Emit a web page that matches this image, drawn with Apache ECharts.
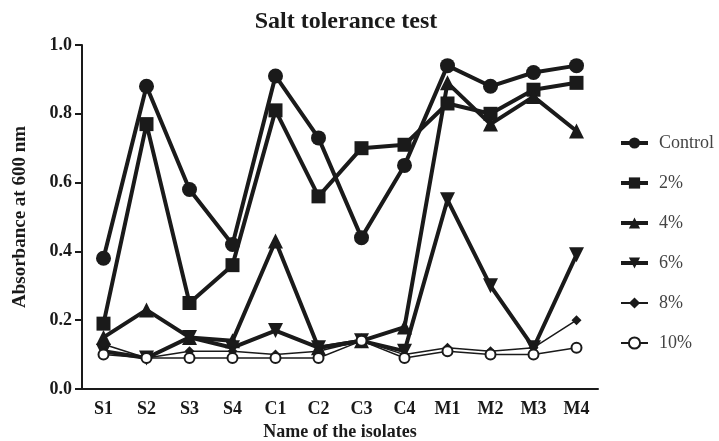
<!DOCTYPE html>
<html>
<head>
<meta charset="utf-8">
<script src="https://cdn.jsdelivr.net/npm/echarts@6/dist/echarts.min.js"></script>
<style>
  html, body { margin: 0; padding: 0; background: #fff; }
  #chart { width: 719px; height: 441px; }
</style>
</head>
<body>
<div id="chart"></div>
<script>
// categories and readings (absorbance at 600 nm)
var isolates = ['S1', 'S2', 'S3', 'S4', 'C1', 'C2', 'C3', 'C4', 'M1', 'M2', 'M3', 'M4'];
var yTicks = [0.0, 0.2, 0.4, 0.6, 0.8, 1.0];

var control = [0.38, 0.88, 0.58, 0.42, 0.91, 0.73, 0.44, 0.65, 0.94, 0.88, 0.92, 0.94];
var salt2   = [0.19, 0.77, 0.25, 0.36, 0.81, 0.56, 0.70, 0.71, 0.83, 0.80, 0.87, 0.89];
var salt4   = [0.15, 0.23, 0.15, 0.14, 0.43, 0.12, 0.14, 0.18, 0.89, 0.77, 0.85, 0.75];
var salt6   = [0.11, 0.09, 0.15, 0.12, 0.17, 0.12, 0.14, 0.11, 0.55, 0.30, 0.12, 0.39];
var salt8   = [0.13, 0.09, 0.11, 0.11, 0.10, 0.11, 0.14, 0.10, 0.12, 0.11, 0.12, 0.20];
var salt10  = [0.10, 0.09, 0.09, 0.09, 0.09, 0.09, 0.14, 0.09, 0.11, 0.10, 0.10, 0.12];

var font = '"Liberation Serif", "Times New Roman", serif';
var ink = '#1a1a1a';

function makeSeries(name, data, symbol, size, width, rotate) {
    return {
        name: name,
        type: 'line',
        data: data,
        symbol: symbol,
        symbolSize: size,
        symbolRotate: rotate || 0,
        showAllSymbol: true,
        lineStyle: { color: ink, width: width },
        itemStyle: { color: ink, borderColor: ink, borderWidth: symbol == 'emptyCircle' ? 2 : 0 },
        emphasis: { disabled: true }
    };
}

var chart = echarts.init(document.getElementById('chart'));
var option = {
    animation: false,
    backgroundColor: '#fff',
    textStyle: { fontFamily: font },
    title: {
        text: 'Salt tolerance test',
        left: 341,
        top: 5,
        textAlign: 'center',
        textStyle: { fontFamily: font, fontWeight: 'bold', fontSize: 24, color: ink }
    },
    legend: {
        orient: 'vertical',
        left: 619,
        top: 134,
        padding: 0,
        itemWidth: 27,
        itemHeight: 14,
        itemGap: 22,
        textStyle: { fontFamily: font, fontSize: 18, color: '#444', padding: [0, 0, 0, 6] },
        data: [
            { name: 'Control', lineStyle: { width: 4 } },
            { name: '2%', lineStyle: { width: 4 } },
            { name: '4%', lineStyle: { width: 4 } },
            { name: '6%', lineStyle: { width: 4 } },
            { name: '8%', lineStyle: { width: 2 } },
            { name: '10%', lineStyle: { width: 2 } }
        ]
    },
    grid: { left: 82, right: 121, top: 45, bottom: 52, outerBoundsMode: 'none', containLabel: false },
    xAxis: {
        type: 'category',
        data: isolates,
        boundaryGap: true,
        name: 'Name of the isolates',
        nameLocation: 'middle',
        nameGap: 34,
        nameTextStyle: { fontFamily: font, fontWeight: 'bold', fontSize: 18, color: ink },
        axisLine: { lineStyle: { color: ink, width: 2 } },
        axisTick: { alignWithLabel: true, length: 7, lineStyle: { color: ink, width: 2 } },
        axisLabel: { fontFamily: font, fontWeight: 'bold', fontSize: 18, color: ink, margin: 11 }
    },
    yAxis: {
        type: 'value',
        min: yTicks[0],
        max: yTicks[yTicks.length - 1],
        interval: 0.2,
        name: 'Absorbance at 600 nm',
        nameLocation: 'middle',
        nameGap: 52,
        nameTextStyle: { fontFamily: font, fontWeight: 'bold', fontSize: 19, color: ink },
        splitLine: { show: false },
        axisLine: { show: true, lineStyle: { color: ink, width: 2 } },
        axisTick: { show: true, length: 7, lineStyle: { color: ink, width: 2 } },
        axisLabel: {
            fontFamily: font, fontWeight: 'bold', fontSize: 18, color: ink, margin: 10,
            formatter: function (v) { return v.toFixed(1); }
        }
    },
    series: [
        makeSeries('Control', control, 'circle', 15, 4),
        makeSeries('2%', salt2, 'rect', 14, 4),
        makeSeries('4%', salt4, 'triangle', 15, 4),
        makeSeries('6%', salt6, 'triangle', 15, 4, 180),
        makeSeries('8%', salt8, 'diamond', 10, 1.5),
        makeSeries('10%', salt10, 'emptyCircle', 10, 1.5)
    ]
};
chart.setOption(option);
</script>
</body>
</html>
